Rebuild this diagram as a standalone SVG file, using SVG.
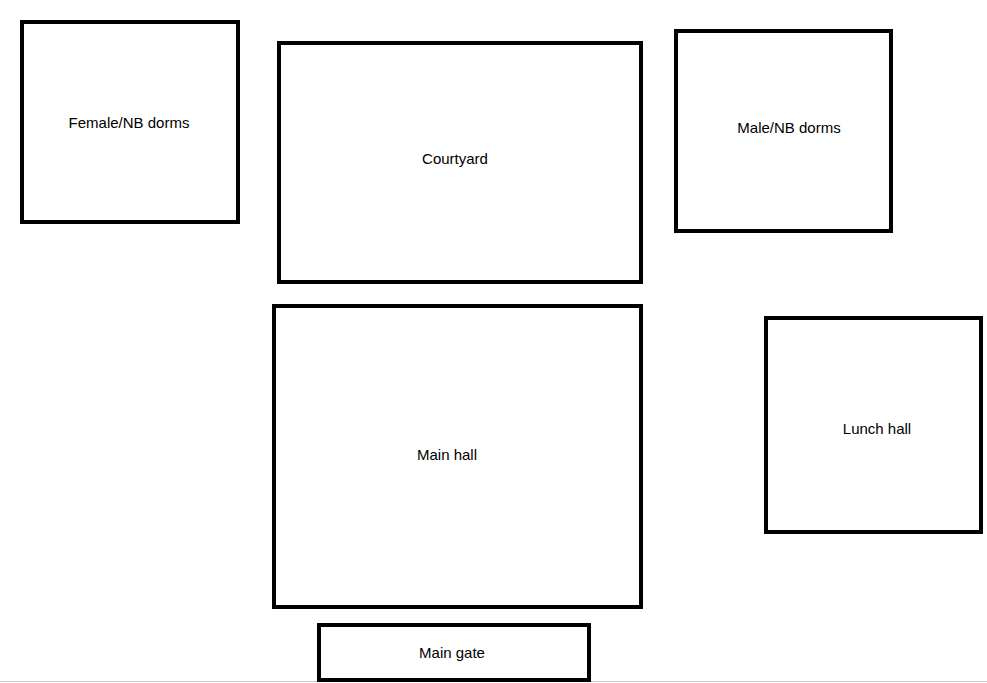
<svg xmlns="http://www.w3.org/2000/svg" width="987" height="683" viewBox="0 0 987 683">
<style>
rect.n{fill:#fff;stroke:#000;stroke-width:4}
text{font-family:"Liberation Sans",Arial,sans-serif;font-size:15px;fill:#000;text-anchor:middle;dominant-baseline:middle}
</style>
<rect width="987" height="683" fill="#fff"/>
<line x1="0" y1="681.5" x2="987" y2="681.5" stroke="#ccc" stroke-width="1"/>
<g id="female"><rect class="n" x="22" y="22" width="216" height="200"/><text x="129" y="124">Female/NB dorms</text></g>
<g id="courtyard"><rect class="n" x="279" y="43" width="362" height="239"/><text x="455" y="160">Courtyard</text></g>
<g id="male"><rect class="n" x="676" y="31" width="215" height="200"/><text x="789" y="129">Male/NB dorms</text></g>
<g id="mainhall"><rect class="n" x="274" y="306" width="367" height="301"/><text x="447" y="456">Main hall</text></g>
<g id="lunch"><rect class="n" x="766" y="318" width="215" height="214"/><text x="877" y="430">Lunch hall</text></g>
<g id="gate"><rect class="n" x="319" y="625" width="270" height="55"/><text x="452" y="654">Main gate</text></g>
<g id="connectors"></g>
</svg>
